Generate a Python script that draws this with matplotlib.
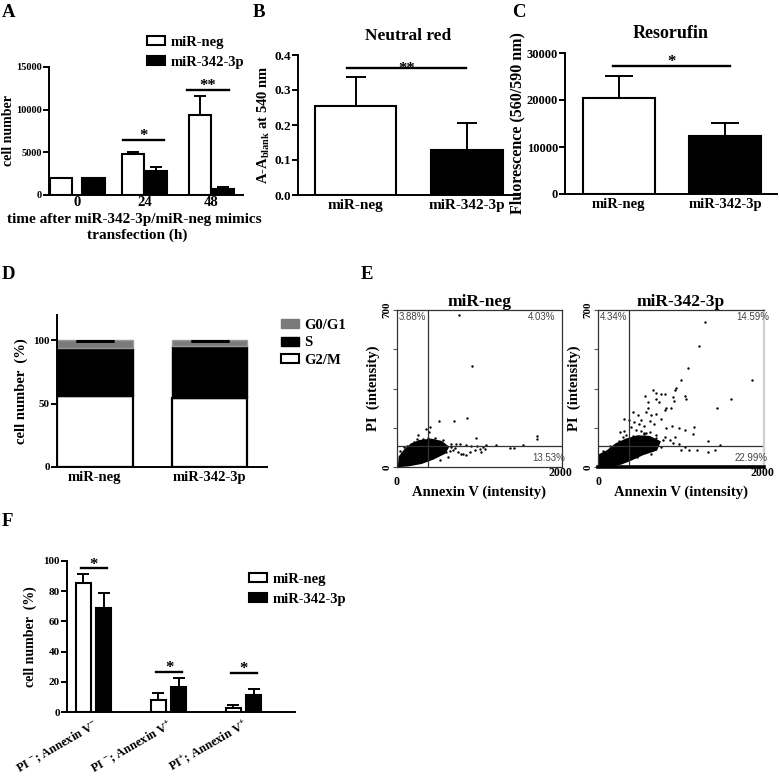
import matplotlib
matplotlib.use('Agg')
import matplotlib.pyplot as plt
from matplotlib.patches import Patch
from matplotlib.ticker import MultipleLocator
import numpy as np

plt.rcParams['font.family'] = ['Liberation Serif', 'DejaVu Serif']
plt.rcParams['font.weight'] = 'bold'
plt.rcParams['axes.labelweight'] = 'bold'
plt.rcParams['axes.titleweight'] = 'bold'
plt.rcParams['mathtext.fontset'] = 'custom'
plt.rcParams['mathtext.rm'] = 'Liberation Serif:bold'
plt.rcParams['mathtext.it'] = 'Liberation Serif:italic:bold'
plt.rcParams['mathtext.bf'] = 'Liberation Serif:bold'

W, H = 779, 777

# ---------------- data ----------------
# A: cell number over time
a_times = ['0', '24', '48']
a_neg = [2000, 4800, 9400]
a_neg_err = [0, 250, 2200]
a_342 = [2000, 2800, 700]
a_342_err = [0, 500, 200]

# B: neutral red
groups = ['miR-neg', 'miR-342-3p']
b_vals = [0.254, 0.128]
b_err = [0.082, 0.078]

# C: resorufin
c_vals = [20500, 12350]
c_err = [4650, 2700]

# D: cell cycle
d_g2m = [56.0, 54.2]
d_s = [37.6, 41.6]
d_g0g1 = [6.4, 4.2]

# E: annexin V / PI flow cytometry
e_gate_neg = (376, 95)
e_gate_342 = (369, 92)
e_pct_neg = ['3.88%', '4.03%', '13.53%']
e_pct_342 = ['4.34%', '14.59%', '22.99%']
# dense core of the cell population (outline)
neg_core_x = [24, 32, 93, 174, 275, 416, 537, 618, 578, 436, 295, 133]
neg_core_y = [4, 45, 74, 101, 116, 122, 112, 89, 63, 37, 18, 7]
neg_x = [747, 909, 852, 687, 509, 400, 356, 255, 388, 953, 1701, 1701, 1204, 1366,
         1414, 1527, 1083, 1042, 970, 901, 840, 768, 719, 1002, 1063, 881, 800,
         739, 679, 840, 780, 638, 659, 598, 941, 1022,
         60, 120, 200, 310, 460, 560, 650, 700, 620, 520, 150, 40, 90, 240, 380]
neg_y = [677, 450, 219, 205, 205, 179, 171, 141, 156, 130, 138, 127, 97, 86,
         85, 97, 97, 89, 94, 94, 97, 101, 104, 79, 82, 67, 60,
         67, 74, 52, 57, 71, 89, 67, 74, 67,
         62, 95, 112, 125, 130, 120, 102, 85, 45, 30, 20, 70, 88, 124, 130]
m342_core_x = [12, 12, 114, 215, 337, 479, 621, 742, 702, 540, 398, 276, 114]
m342_core_y = [3, 52, 71, 101, 122, 137, 134, 112, 77, 57, 33, 15, 3]
m342_x = [1290, 1221, 1850, 1079, 1006, 1603, 1428, 945, 933, 661, 694, 763, 811,
          568, 702, 905, 1047, 1059, 917, 730, 600, 824, 876, 803, 600, 580, 641,
          702, 418, 316, 377, 487, 519, 438, 499, 552, 621, 763, 673, 824, 893,
          974, 925, 1160, 1148, 1047, 694, 803, 864, 905, 978, 1047, 1099, 1189,
          1331, 1465, 1331, 1412, 1006, 621, 560, 398, 316, 268, 296, 337, 458, 519,
          60, 150, 250, 420, 560, 700, 780, 760, 640, 470, 330, 200, 100, 40, 580]
m342_y = [648, 540, 387, 442, 387, 301, 264, 354, 345, 345, 328, 325, 325,
          317, 305, 313, 317, 305, 293, 290, 290, 264, 265, 253, 261, 246, 231,
          238, 243, 216, 208, 231, 208, 201, 191, 182, 204, 213, 191, 174, 182,
          174, 134, 179, 149, 167, 131, 134, 122, 107, 101, 89, 77, 77,
          116, 97, 67, 74, 74, 156, 149, 179, 161, 156, 134, 144, 167, 161,
          70, 95, 118, 140, 150, 142, 120, 90, 60, 45, 25, 10, 8, 30, 150]

# F: apoptosis quantification
f_cats = [r'PI $^{-}$; Annexin V$^{-}$', r'PI $^{-}$; Annexin V$^{+}$',
          r'PI$^{+}$; Annexin V$^{+}$']
f_neg = [85.6, 8.2, 2.9]
f_neg_err = [5.8, 4.6, 1.5]
f_342 = [68.6, 16.6, 11.0]
f_342_err = [9.9, 6.2, 4.3]
f_sig = [95.1, 26.5, 26.1]

fig = plt.figure(figsize=(W / 100, H / 100), dpi=100)


def px_axes(l, t, r, b):
    return fig.add_axes([l / W, 1 - b / H, (r - l) / W, (b - t) / H])


def style(ax, size=9, lw=1.4):
    for s in ['top', 'right']:
        ax.spines[s].set_visible(False)
    for s in ['left', 'bottom']:
        ax.spines[s].set_linewidth(lw)
    ax.tick_params(direction='out', length=4, width=lw, labelsize=size, pad=1)


def upper_err(ax, x, y, e, cap):
    x, y, e = np.asarray(x, float), np.asarray(y, float), np.asarray(e, float)
    m = e > 0
    ax.errorbar(x[m], y[m], yerr=[np.zeros(m.sum()), e[m]], fmt='none',
                ecolor='black', elinewidth=1.4, capsize=cap, capthick=1.4)


def sig(ax, x0, x1, y, stars, size=12, off=-3):
    ax.plot([x0, x1], [y, y], color='black', lw=1.7, clip_on=False)
    ax.annotate(stars, ((x0 + x1) / 2, y), xytext=(0, off), textcoords='offset points',
                ha='center', va='bottom', fontsize=size)


def letter(x, y, s):
    fig.text(x / W, 1 - y / H, s, fontsize=13.5, va='top', ha='left')


legend_neg = [Patch(facecolor='white', edgecolor='black', lw=1.5, label='miR-neg'),
              Patch(facecolor='black', edgecolor='black', lw=1.5, label='miR-342-3p')]

# ---------------- A ----------------
ax = px_axes(49, 67, 243, 195)
style(ax, 7.5)
xa = np.arange(len(a_times))
off = np.array([0.24, 0.168, 0.168])
ax.bar(xa - off, a_neg, 0.336, color='white', edgecolor='black', lw=1.5)
ax.bar(xa + off, a_342, 0.336, color='black', edgecolor='black', lw=1.5)
upper_err(ax, xa - off, a_neg, a_neg_err, 4.5)
upper_err(ax, xa + off, a_342, a_342_err, 4.5)
ax.set_xlim(-0.42, 2.47)
ax.set_ylim(0, 15000)
ax.set_yticks([0, 5000, 10000, 15000])
ax.set_xticks(xa)
ax.set_xticklabels(a_times, fontsize=10.5)
ax.tick_params(axis='x', length=0, pad=1)
ax.set_ylabel('cell number', fontsize=10)
ax.yaxis.set_label_coords(-0.175, 0.5)
sig(ax, 0.68, 1.29, 6500, '*')
sig(ax, 1.64, 2.26, 12350, '**')
fig.text(134 / W, 1 - 219 / H, 'time after miR-342-3p/miR-neg mimics', fontsize=11,
         ha='center', va='center')
fig.text(137 / W, 1 - 235 / H, 'transfection (h)', fontsize=11, ha='center', va='center')
fig.legend(handles=legend_neg, loc='upper left', bbox_to_anchor=(147 / W, 1 - 36 / H),
           frameon=False, fontsize=10.5, handlelength=1.2, handleheight=0.6,
           handletextpad=0.4, labelspacing=0.45, borderpad=0, borderaxespad=0)

# ---------------- B ----------------
ax = px_axes(298, 55, 519, 195)
style(ax, 9.5)
xb = np.arange(2)
ax.bar(xb, b_vals, [0.73, 0.65], color=['white', 'black'], edgecolor='black', lw=1.5)
upper_err(ax, xb, b_vals, b_err, 7)
ax.set_xlim(-0.52, 1.47)
ax.set_ylim(0, 0.4)
ax.set_yticks([0, 0.1, 0.2, 0.3, 0.4])
ax.set_yticklabels(['0.0', '0.1', '0.2', '0.3', '0.4'])
ax.set_xticks(xb)
ax.set_xticklabels(groups, fontsize=11)
ax.tick_params(axis='x', length=0, pad=3)
ax.set_ylabel(r'A-A$_{\rm blank}$ at 540 nm', fontsize=10.5, labelpad=2)
ax.set_title('Neutral red', fontsize=12.5, pad=11)
sig(ax, -0.08, 0.99, 0.362, '**', off=-6)

# ---------------- C ----------------
ax = px_axes(565, 53, 777, 194)
style(ax, 9)
ax.bar(xb, c_vals, 0.68, color=['white', 'black'], edgecolor='black', lw=1.5)
upper_err(ax, xb, c_vals, c_err, 10)
ax.set_xlim(-0.507, 1.49)
ax.set_ylim(0, 30000)
ax.set_yticks([0, 10000, 20000, 30000])
ax.set_xticks(xb)
ax.set_xticklabels(groups, fontsize=10.5)
ax.tick_params(axis='x', length=0, pad=3)
ax.set_ylabel('Fluorescence (560/590 nm)', fontsize=11.5, labelpad=1)
ax.set_title('Resorufin', fontsize=13, pad=11)
sig(ax, -0.056, 1.05, 27250, '*')

# ---------------- D ----------------
ax = px_axes(57, 315, 267, 467)
style(ax, 8)
xd = np.arange(2)
ax.bar(xd, d_g2m, 0.66, color='white', edgecolor='black', lw=1.6)
ax.bar(xd, d_s, 0.66, bottom=d_g2m, color='black', edgecolor='black', lw=1.0)
tot = np.array(d_g2m) + np.array(d_s)
ax.bar(xd, d_g0g1, 0.66, bottom=tot, color='#7a7a7a', edgecolor='#9a9a9a', lw=1.0)
ax.errorbar(xd, tot + np.array(d_g0g1) - 0.6, yerr=[[0, 0], [0.3, 0.3]], fmt='none',
            ecolor='black', elinewidth=1.2, capsize=13.5, capthick=2)
ax.set_xlim(-0.33, 1.5)
ax.set_ylim(0, 120)
ax.set_yticks([0, 50, 100])
ax.set_xticks(xd)
ax.set_xticklabels(groups, fontsize=10.5)
ax.tick_params(axis='x', length=0, pad=3)
ax.set_ylabel('cell number  (%)', fontsize=10.5, labelpad=4)
fig.legend(handles=[Patch(facecolor='#7a7a7a', edgecolor='#7a7a7a', label='G0/G1'),
                    Patch(facecolor='black', edgecolor='black', label='S'),
                    Patch(facecolor='white', edgecolor='black', lw=1.5, label='G2/M')],
           loc='upper left', bbox_to_anchor=(281 / W, 1 - 319 / H), frameon=False,
           fontsize=10.5, handlelength=1.2, handleheight=0.6, handletextpad=0.4,
           labelspacing=0.3, borderpad=0, borderaxespad=0)

# ---------------- E ----------------
def flow(box, core_x, core_y, xs, ys, gate, pct, title, right_gray):
    ax = px_axes(*box)
    for s in ax.spines.values():
        s.set_linewidth(0.9)
        s.set_color('#333333')
    if right_gray:
        ax.spines['right'].set_color('#cfcfcf')
        ax.spines['right'].set_linewidth(1.6)
        ax.spines['bottom'].set_color('black')
        ax.spines['bottom'].set_linewidth(2.6)
    ax.fill(core_x, core_y, color='black', lw=1.5, ec='black')
    ax.scatter(xs, ys, s=3, color='black', lw=0)
    ax.axvline(gate[0], color='#333333', lw=0.9)
    ax.axhline(gate[1], color='#333333', lw=0.9)
    ax.set_xlim(0, 2000)
    ax.set_ylim(0, 700)
    ax.set_xticks([])
    ax.set_yticks([0, 700])
    ax.set_yticklabels(['0', '700'], rotation=90, va='center', fontsize=8)
    ax.yaxis.set_minor_locator(MultipleLocator(175))
    ax.tick_params(axis='y', which='both', direction='out', length=3, width=0.8,
                   color='#555555', pad=1)
    ax.text(0, -0.095, '0', transform=ax.transAxes, ha='center', va='center', fontsize=8.5)
    ax.text(0.99, -0.04, '2000', transform=ax.transAxes, ha='center', va='center', fontsize=8.5)
    ax.set_xlabel('Annexin V (intensity)', fontsize=10.5, labelpad=13)
    ax.set_ylabel('PI  (intensity)', fontsize=10.5, labelpad=2)
    ax.set_title(title, fontsize=12.5, pad=1)
    kw = dict(transform=ax.transAxes, fontsize=7, family='Liberation Sans',
              weight='normal', color='#444444')
    ax.text(0.01, 0.985, pct[0], ha='left', va='top', **kw)
    ax.text(0.96 if not right_gray else 1.03, 0.985, pct[1], ha='right', va='top', **kw)
    ax.text(1.02, 0.025, pct[2], ha='right', va='bottom', **kw)
    return ax


flow((397, 310, 562, 467), neg_core_x, neg_core_y, neg_x, neg_y, e_gate_neg,
     e_pct_neg, 'miR-neg', False)
flow((598, 310, 764, 467), m342_core_x, m342_core_y, m342_x, m342_y, e_gate_342,
     e_pct_342, 'miR-342-3p', True)

# ---------------- F ----------------
ax = px_axes(67, 561, 295, 712)
style(ax, 8)
xf = np.arange(len(f_cats))
ax.bar(xf - 0.136, f_neg, 0.196, color='white', edgecolor='black', lw=1.5)
ax.bar(xf + 0.136, f_342, 0.196, color='black', edgecolor='black', lw=1.5)
upper_err(ax, xf - 0.136, f_neg, f_neg_err, 4)
upper_err(ax, xf + 0.136, f_342, f_342_err, 4)
for i, y in enumerate(f_sig):
    sig(ax, xf[i] - 0.17, xf[i] + 0.18, y, '*')
ax.set_xlim(-0.355, 2.685)
ax.set_ylim(0, 100)
ax.set_yticks([0, 20, 40, 60, 80, 100])
ax.set_xticks(xf)
ax.set_xticklabels(f_cats, fontsize=9, rotation=30, ha='right', rotation_mode='anchor')
ax.tick_params(axis='x', length=0, pad=4)
ax.set_ylabel('cell number  (%)', fontsize=10, labelpad=5)
fig.legend(handles=legend_neg, loc='upper left', bbox_to_anchor=(249 / W, 1 - 573 / H),
           frameon=False, fontsize=10.5, handlelength=1.2, handleheight=0.6,
           handletextpad=0.4, labelspacing=0.45, borderpad=0, borderaxespad=0)

letter(2, 4, 'A')
letter(253, 4, 'B')
letter(512, 4, 'C')
letter(2, 266, 'D')
letter(361, 266, 'E')
letter(2, 513, 'F')

fig.savefig('out.png', dpi=100)
